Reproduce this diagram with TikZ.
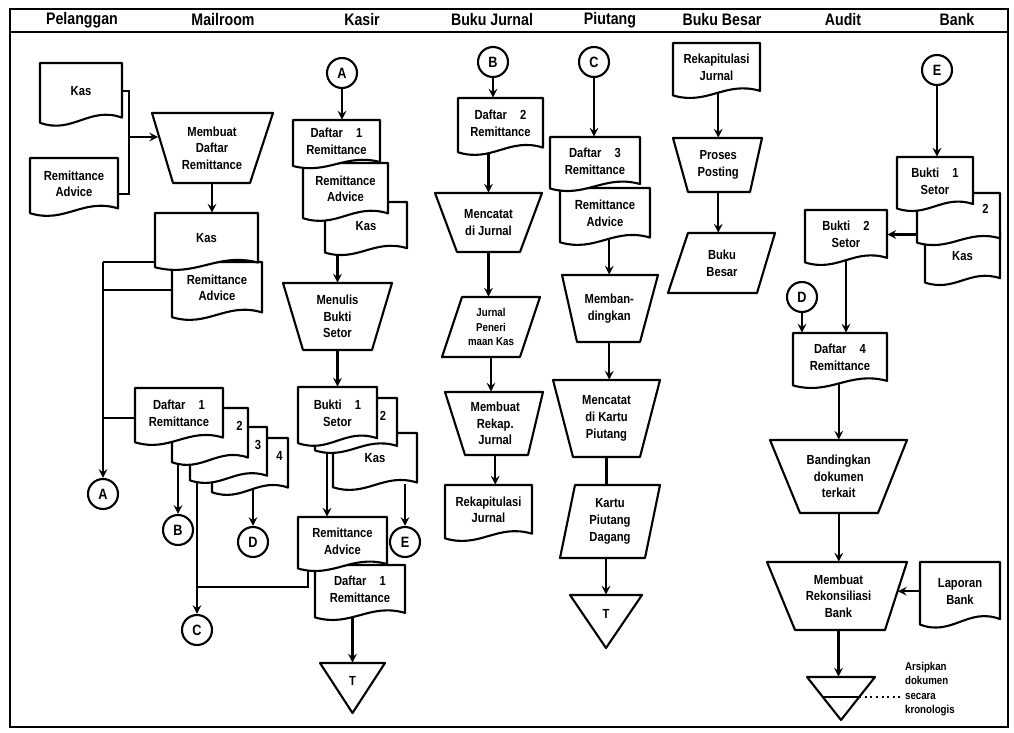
\documentclass[tikz,border=0pt]{standalone}
\usepackage{fontspec}
\setmainfont[FakeStretch=0.85]{Liberation Sans}
\usepackage{tikz}
\usetikzlibrary{shapes,arrows,positioning,backgrounds,calc}

% document symbol: name, x1, y1, x2, y2 (px, y downwards), text
\newcommand{\docshape}[7][]{%
  \draw[shapeline] (#3,#4) -- (#5,#4) -- (#5,{#4+0.84*(#6-#4)})
    .. controls ({#3+0.6*(#5-#3)},{#4+0.66*(#6-#4)}) and ({#3+0.4*(#5-#3)},{#4+1.1*(#6-#4)})
    .. (#3,{#4+0.92*(#6-#4)}) -- cycle;
  \node[lbl, minimum width={(#5-#3)*0.02cm}, minimum height={0.86*(#6-#4)*0.02cm}, #1] (#2)
    at ({(#3+#5)/2},{#4+0.43*(#6-#4)}) {#7};
}
% manual operation / input-output: name, top left, top right, top y, bottom left, bottom right, bottom y, text
\newcommand{\quadbox}[9][]{%
  \draw[shapeline] (#3,#5) -- (#4,#5) -- (#7,#8) -- (#6,#8) -- cycle;
  \node[lbl, minimum width={(#4-#3)*0.02cm}, minimum height={(#8-#5)*0.02cm}, #1] (#2)
    at ({(#3+#4+#6+#7)/4},{(#5+#8)/2}) {#9};
}
% file symbol: name, x1, x2, top y, apex y, text
\newcommand{\filetri}[7][]{%
  \draw[shapeline] (#3,#5) -- (#4,#5) -- ({(#3+#4)/2},#6) -- cycle;
  \node[lbl, minimum width={(#4-#3)*0.02cm}, minimum height={0.7*(#6-#5)*0.02cm}, #1] (#2)
    at ({(#3+#4)/2},{#5+0.35*(#6-#5)}) {#7};
}

\begin{document}
\begin{tikzpicture}[x=0.02cm, y=-0.02cm, >=stealth,
    shapeline/.style={draw, line width=1.2pt, fill=white, line join=round},
    lbl/.style={inner sep=1pt, align=center, font=\fontsize{7.5}{9.5}\selectfont\bfseries},
    lblsmall/.style={inner sep=1pt, font=\fontsize{6.5}{8.3}\selectfont\bfseries},
    numtag/.style={text width=#1, align=right, text depth=0.28cm},
    conn/.style={circle, draw, line width=1.2pt, fill=white, minimum size=0.6cm, inner sep=0pt, font=\fontsize{8.5}{9}\selectfont\bfseries},
    flow/.style={line width=1.2pt},
    lanehead/.style={font=\fontsize{9.5}{11}\selectfont\bfseries}]
    \useasboundingbox (0,0) rectangle (1014,733);

    % Frame and lane titles
    \draw[line width=1.6pt] (10,9) rectangle (1008,727);
    \draw[line width=1.6pt] (10,32) -- (1008,32);
    \node[lanehead] (hPel) at (82,20) {Pelanggan};
    \node[lanehead] (hMail) at (223,20) {Mailroom};
    \node[lanehead] (hKas) at (362,20) {Kasir};
    \node[lanehead] (hJur) at (492,20) {Buku Jurnal};
    \node[lanehead] (hPiu) at (610,20) {Piutang};
    \node[lanehead] (hBsr) at (722,20) {Buku Besar};
    \node[lanehead] (hAud) at (843,20) {Audit};
    \node[lanehead] (hBank) at (957,20) {Bank};

    % Pelanggan
    \docshape{plKas}{40}{63}{122}{128}{Kas}
    \docshape{plRA}{30}{158}{118}{218}{Remittance\\Advice}
    \coordinate (brk) at (129,137);

    % Mailroom
    \quadbox{mdr}{152}{273}{113}{173}{250}{183}{Membuat\\Daftar\\Remittance}
    \docshape{mrRA}{172}{262}{262}{322}{Remittance\\Advice}
    \docshape{mrKas}{155}{213}{258}{272}{Kas}
    \docshape[numtag=1.3cm]{mrD4}{212}{438}{288}{497}{4}
    \docshape[numtag=1.3cm]{mrD3}{190}{427}{267}{485}{3}
    \docshape[numtag=1.3cm]{mrD2}{172}{408}{248}{467}{2}
    \docshape{mrD1}{135}{388}{223}{447}{Daftar\quad 1\\Remittance}
    \coordinate (jA) at (103,262);
    \coordinate (jB) at (103,290);
    \coordinate (jC) at (103,418);
    \node[conn] (A1) at (103,494) {A};
    \node[conn] (B1) at (178,530) {B};
    \node[conn] (D1) at (253,542) {D};
    \node[conn] (C1) at (197,630) {C};

    % Kasir
    \node[conn] (A2) at (342,73) {A};
    \docshape{kKas}{325}{202}{407}{257}{Kas}
    \docshape{kRA}{303}{163}{388}{223}{Remittance\\Advice}
    \docshape{kD1}{293}{120}{380}{170}{Daftar\quad 1\\Remittance}
    \quadbox{kMbs}{283}{392}{283}{303}{372}{350}{Menulis\\Bukti\\Setor}
    \docshape{kKas2}{333}{433}{417}{492}{Kas}
    \docshape[numtag=1.2cm]{kB2}{315}{398}{397}{455}{2}
    \docshape{kB1}{298}{387}{377}{448}{Bukti\quad 1\\Setor}
    \node[conn] (E1) at (405,542) {E};
    \docshape{kD1b}{315}{565}{405}{622}{Daftar\quad 1\\Remittance}
    \docshape{kRA2}{298}{517}{387}{573}{Remittance\\Advice}
    \filetri{kT}{320}{385}{663}{713}{T}
    \coordinate (k1) at (327,0);
    \coordinate (jK) at (308,587);

    % Buku Jurnal
    \node[conn] (B2) at (493,62) {B};
    \docshape{jD2}{458}{98}{543}{157}{Daftar\quad 2\\Remittance}
    \quadbox{jMc}{435}{542}{193}{457}{520}{252}{Mencatat\\di Jurnal}
    \quadbox[lblsmall]{jJpk}{462}{540}{297}{442}{520}{357}{Jurnal\\Peneri\\maan Kas}
    \quadbox{jMr}{445}{543}{392}{465}{528}{455}{Membuat\\Rekap.\\Jurnal}
    \docshape{jRk}{445}{485}{532}{543}{Rekapitulasi\\Jurnal}

    % Piutang
    \node[conn] (C2) at (594,62) {C};
    \docshape{pRA}{560}{188}{650}{247}{Remittance\\Advice}
    \docshape{pD3}{550}{137}{640}{193}{Daftar\quad 3\\Remittance}
    \quadbox{pMb}{562}{658}{275}{577}{640}{342}{Memban-\\dingkan}
    \quadbox{pMc}{553}{660}{380}{573}{640}{457}{Mencatat\\di Kartu\\Piutang}
    \quadbox{pKp}{575}{660}{485}{560}{645}{558}{Kartu\\Piutang\\Dagang}
    \filetri{pT}{570}{642}{595}{648}{T}

    % Buku Besar
    \docshape{bRk}{673}{43}{760}{100}{Rekapitulasi\\Jurnal}
    \quadbox{bPp}{673}{762}{138}{688}{750}{192}{Proses\\Posting}
    \quadbox{bBb}{688}{775}{233}{668}{757}{293}{Buku\\Besar}

    % Audit and Bank
    \node[conn] (E2) at (937,70) {E};
    \docshape{aKas}{925}{232}{1000}{287}{Kas}
    \docshape[numtag=1.2cm]{aB2}{917}{193}{1000}{247}{2}
    \docshape{aB1}{897}{157}{973}{213}{Bukti\quad 1\\Setor}
    \docshape{aBs2}{805}{210}{887}{267}{Bukti\quad 2\\Setor}
    \node[conn] (D2) at (802,297) {D};
    \docshape{aD4}{793}{333}{887}{390}{Daftar\quad 4\\Remittance}
    \quadbox{aBd}{770}{907}{440}{800}{878}{513}{Bandingkan\\dokumen\\terkait}
    \quadbox{aMr}{767}{907}{562}{795}{885}{630}{Membuat\\Rekonsiliasi\\Bank}
    \docshape{aLb}{920}{562}{1000}{630}{Laporan\\Bank}
    \filetri{aT}{807}{875}{677}{720}{}
    \draw[flow] (823,697) -- (859,697);
    \node[lblsmall, align=left, anchor=west] (arsip) at (903,689) {Arsipkan\\dokumen\\secara\\kronologis};
    \draw[flow, dotted] (859,697) -- (arsip.west |- 0,697);

    % Connectors
    \begin{pgfonlayer}{background}
        \draw[flow] (plKas.east) -| (brk) |- ([yshift=-0.2cm]plRA.east);
        \draw[flow,->] (brk) -- ($(brk -| mdr.west)+(7,0)$);
        \draw[flow,->] (mdr.south) -- (mdr.south |- mrKas.north);
        \draw[flow] (mrKas.west |- jA) -- (jA);
        \draw[flow] (mrRA.west |- jB) -- (jB);
        \draw[flow] (mrD1.west |- jC) -- (jC);
        \draw[flow,->] (jA) -- (A1.north);
        \draw[flow,->] (B1.north |- mrD2.south) -- (B1.north);
        \draw[flow,->] (D1.north |- mrD4.south) -- (D1.north);
        \draw[flow,->] (C1.north |- mrD3.south) -- (C1.north);
        \draw[flow] (jK |- kRA2.south) -- (jK) -- (jK -| C1.north);

        \draw[flow,->] (A2.south) -- (A2.south |- kD1.north);
        \draw[flow,->] (kMbs.north |- kKas.south) -- (kMbs.north);
        \draw[flow,->] (kMbs.south) -- (kMbs.south |- kB1.north);
        \draw[flow,->] (k1 |- kB1.south) -- (k1 |- kRA2.north);
        \draw[flow,->] (E1.north |- kKas2.south) -- (E1.north);
        \draw[flow,->] (kT.north |- kD1b.south) -- (kT.north);

        \draw[flow,->] (B2.south) -- (B2.south |- jD2.north);
        \draw[flow,->] (jMc.north |- jD2.south) -- (jMc.north);
        \draw[flow,->] (jMc.south) -- (jMc.south |- jJpk.north);
        \draw[flow,->] (jJpk.south) -- (jJpk.south |- jMr.north);
        \draw[flow,->] (jMr.south) -- (jMr.south |- jRk.north);

        \draw[flow,->] (C2.south) -- (C2.south |- pD3.north);
        \draw[flow,->] (pMb.north |- pRA.south) -- (pMb.north);
        \draw[flow,->] (pMb.south) -- (pMb.south |- pMc.north);
        \draw[flow] (pMc.south) -- (pMc.south |- pKp.north);
        \draw[flow,->] (pT.north |- pKp.south) -- (pT.north);

        \draw[flow,->] (bPp.north |- bRk.south) -- (bPp.north);
        \draw[flow,->] (bPp.south) -- (bPp.south |- bBb.north);

        \draw[flow,->] (E2.south) -- (E2.south |- aB1.north);
        \draw[flow,->] (aB2.south west |- aBs2.east) -- (aBs2.east);
        \draw[flow,->] (aBs2.south) -- (aBs2.south |- aD4.north);
        \draw[flow,->] (D2.south) -- (D2.south |- aD4.north);
        \draw[flow,->] (aBd.north |- aD4.south) -- (aBd.north);
        \draw[flow,->] (aBd.south) -- (aBd.south |- aMr.north);
        \draw[flow,->] (aLb.west) -- ($(aLb.west -| aMr.east)+(-11,0)$);
        \draw[flow,->] (aMr.south) -- (aMr.south |- aT.north);
    \end{pgfonlayer}
\end{tikzpicture}
\end{document}
